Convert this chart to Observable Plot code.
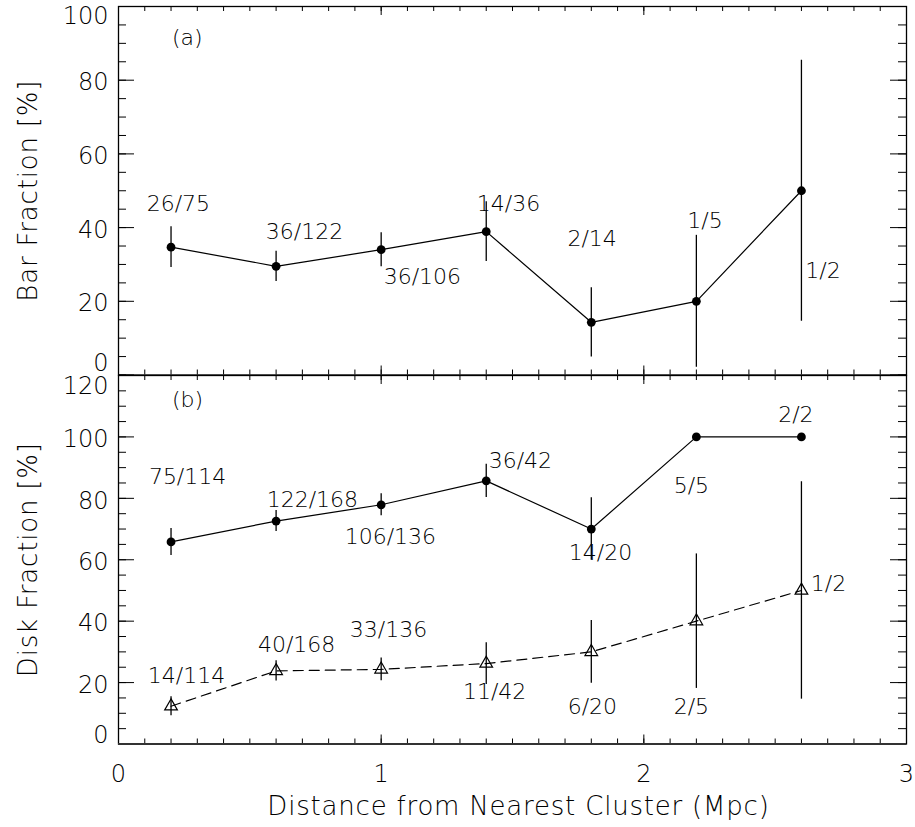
<!DOCTYPE html>
<html>
<head>
<meta charset="utf-8">
<script src="https://cdn.jsdelivr.net/npm/d3@7"></script>
<script src="https://cdn.jsdelivr.net/npm/@observablehq/plot@0.6"></script>
<style>
  html, body { margin: 0; padding: 0; background: #fff; }
  #chart svg { display: block; overflow: visible; }
</style>
</head>
<body>
<div id="chart"></div>
<script>
// Distance bins (Mpc) shared by both panels
const distance = [0.2, 0.6, 1.0, 1.4, 1.8, 2.2, 2.6];

// (a) bar fraction, percent, with 1-sigma errors
const barPct = [34.7, 29.5, 34.0, 38.9, 14.3, 20.0, 50.0];
const barErr = [5.5, 4.1, 4.6, 8.1, 9.4, 17.9, 35.4];
const barLabels = ["26/75", "36/122", "36/106", "14/36", "2/14", "1/5", "1/2"];

// (b) disk fraction, percent (filled circles, solid line)
const diskPct = [65.8, 72.6, 77.9, 85.7, 70.0, 100.0, 100.0];
const diskErr = [4.4, 3.4, 3.6, 5.4, 10.2, 0, 0];
const diskLabels = ["75/114", "122/168", "106/136", "36/42", "14/20", "5/5", "2/2"];

// (b) second disk sample (open triangles, dashed line)
const disk2Pct = [12.3, 23.8, 24.3, 26.2, 30.0, 40.0, 50.0];
const disk2Err = [3.1, 3.3, 3.7, 6.8, 10.2, 21.9, 35.4];
const disk2Labels = ["14/114", "40/168", "33/136", "11/42", "6/20", "2/5", "1/2"];

// Where each count label sits, in data units
const barLabelX = [0.228, 0.708, 1.157, 1.485, 1.803, 2.233, 2.682];
const barLabelY = [46.3, 38.7, 26.5, 46.4, 36.8, 41.7, 28.3];
const diskLabelX = [0.263, 0.738, 1.035, 1.530, 1.835, 2.181, 2.579];
const diskLabelY = [87.0, 79.4, 67.4, 92.2, 62.2, 84.0, 107.1];
const disk2LabelX = [0.259, 0.678, 1.028, 1.432, 1.804, 2.181, 2.703];
const disk2LabelY = [22.0, 32.1, 37.0, 17.1, 12.0, 12.0, 52.0];

// Axis ticks
const xTicks = [0, 1, 2, 3];
const barYTicks = [0, 20, 40, 60, 80, 100];
const diskYTicks = [0, 20, 40, 60, 80, 100, 120];
const xTitle = "Distance from Nearest Cluster (Mpc)";
const barYTitle = "Bar Fraction [%]";
const diskYTitle = "Disk Fraction [%]";

const WIDTH = 915, ML = 118, MR = 9;
const PW = WIDTH - ML - MR;
const FONT = "'DejaVu Sans', sans-serif";
const WEIGHT = 300;

const rows = (ys, es) => distance.map((x, i) => ({x, y: ys[i], e: es[i]}));
const labelRows = (txt, xs, ys) => txt.map((t, i) => ({t, x: xs[i], y: ys[i]}));

// Inward ticks on all four sides of a panel
function frameTicks(PH, yMajor, yMinor) {
  const xMinor = d3.range(0, 31).map(i => i / 10);
  const marks = [];
  for (const [set, len] of [[xMinor, 5], [xTicks, 9]]) {
    marks.push(Plot.tickX(set, {x: d => d, insetBottom: PH - len, strokeWidth: 1}));
    marks.push(Plot.tickX(set, {x: d => d, insetTop: PH - len, strokeWidth: 1}));
  }
  for (const [set, len] of [[yMinor, 8], [yMajor, 16]]) {
    marks.push(Plot.tickY(set, {y: d => d, insetRight: PW - len, strokeWidth: 1}));
    marks.push(Plot.tickY(set, {y: d => d, insetLeft: PW - len, strokeWidth: 1}));
  }
  return marks;
}

// Left tick labels; the end labels are nudged inside the panel
function yTickLabels(ticks, dyLow, dyHigh) {
  const lo = ticks[0], hi = ticks[ticks.length - 1];
  const common = {y: d => d, text: d => String(d), frameAnchor: "left", textAnchor: "end",
    lineAnchor: "middle", dx: -10, fontSize: 24, fontWeight: WEIGHT, fill: "black"};
  return [
    Plot.text(ticks.filter(t => t !== lo && t !== hi), {...common, dy: 2.5}),
    Plot.text([hi], {...common, dy: dyHigh}),
    Plot.text([lo], {...common, dy: dyLow})
  ];
}

function yTitle(title) {
  return Plot.text([title], {frameAnchor: "left", textAnchor: "middle", lineAnchor: "middle",
    rotate: -90, dx: -90, fontSize: 26, fontWeight: WEIGHT, fill: "black"});
}

function countLabels(data) {
  return Plot.text(data, {x: "x", y: "y", text: "t", fontSize: 22, fontWeight: WEIGHT, fill: "black"});
}

function errorBars(data) {
  return Plot.ruleX(data.filter(d => d.e > 0), {x: "x", y1: d => d.y - d.e, y2: d => d.y + d.e, strokeWidth: 1.3});
}

const barData = rows(barPct, barErr);
const diskData = rows(diskPct, diskErr);
const disk2Data = rows(disk2Pct, disk2Err);

const topHeight = 375, topMT = 6, topMB = 0.5;
const topPanel = Plot.plot({
  width: WIDTH, height: topHeight,
  marginLeft: ML, marginRight: MR, marginTop: topMT, marginBottom: topMB,
  x: {domain: [0, 3], axis: null},
  y: {domain: [0, 100], axis: null},
  style: {fontFamily: FONT, background: "white", color: "black"},
  marks: [
    ...frameTicks(topHeight - topMT - topMB, barYTicks, d3.range(0, 101, 5)),
    Plot.frame({stroke: "black", strokeWidth: 1.3}),
    ...yTickLabels(barYTicks, -12, 10),
    yTitle(barYTitle),
    errorBars(barData),
    Plot.line(barData, {x: "x", y: "y", stroke: "black", strokeWidth: 1.2}),
    Plot.dot(barData, {x: "x", y: "y", r: 4.4, fill: "black", stroke: "none"}),
    countLabels(labelRows(barLabels, barLabelX, barLabelY)),
    countLabels([{t: "(a)", x: 0.262, y: 91.4}])
  ]
});

const botHeight = 452, botMT = 0, botMB = 83.5;
const bottomPanel = Plot.plot({
  width: WIDTH, height: botHeight,
  marginLeft: ML, marginRight: MR, marginTop: botMT, marginBottom: botMB,
  x: {domain: [0, 3], axis: null},
  y: {domain: [0, 120], axis: null},
  style: {fontFamily: FONT, background: "white", color: "black"},
  marks: [
    ...frameTicks(botHeight - botMT - botMB, diskYTicks, d3.range(0, 121, 5)),
    Plot.frame({stroke: "black", strokeWidth: 1.3}),
    Plot.ruleY([0], {stroke: "#333", strokeWidth: 2}),
    ...yTickLabels(diskYTicks, -8.5, 11),
    yTitle(diskYTitle),
    Plot.text(xTicks, {x: d => d, text: d => String(d), frameAnchor: "bottom", lineAnchor: "middle",
      dy: 30.5, fontSize: 24, fontWeight: WEIGHT, fill: "black"}),
    Plot.text([xTitle], {frameAnchor: "bottom", lineAnchor: "middle", dx: 6, dy: 63, fontSize: 26,
      fontWeight: WEIGHT, fill: "black"}),
    errorBars(diskData),
    errorBars(disk2Data),
    Plot.line(diskData, {x: "x", y: "y", stroke: "black", strokeWidth: 1.2}),
    Plot.line(disk2Data, {x: "x", y: "y", stroke: "black", strokeWidth: 1.2, strokeDasharray: "10,6"}),
    Plot.dot(diskData, {x: "x", y: "y", r: 4.4, fill: "black", stroke: "none"}),
    Plot.dot(disk2Data, {x: "x", y: "y", r: 4.7, symbol: "triangle", fill: "none", stroke: "black", strokeWidth: 1.2}),
    countLabels(labelRows(diskLabels, diskLabelX, diskLabelY)),
    countLabels(labelRows(disk2Labels, disk2LabelX, disk2LabelY)),
    countLabels([{t: "(b)", x: 0.263, y: 112.0}])
  ]
});

// Slightly wider tracking for the axis titles
for (const svg of [topPanel, bottomPanel]) {
  d3.select(svg).selectAll("text")
    .filter(function () { return [xTitle, barYTitle, diskYTitle].includes(this.textContent); })
    .attr("letter-spacing", "0.8px");
}

document.getElementById("chart").append(topPanel, bottomPanel);
</script>
</body>
</html>
